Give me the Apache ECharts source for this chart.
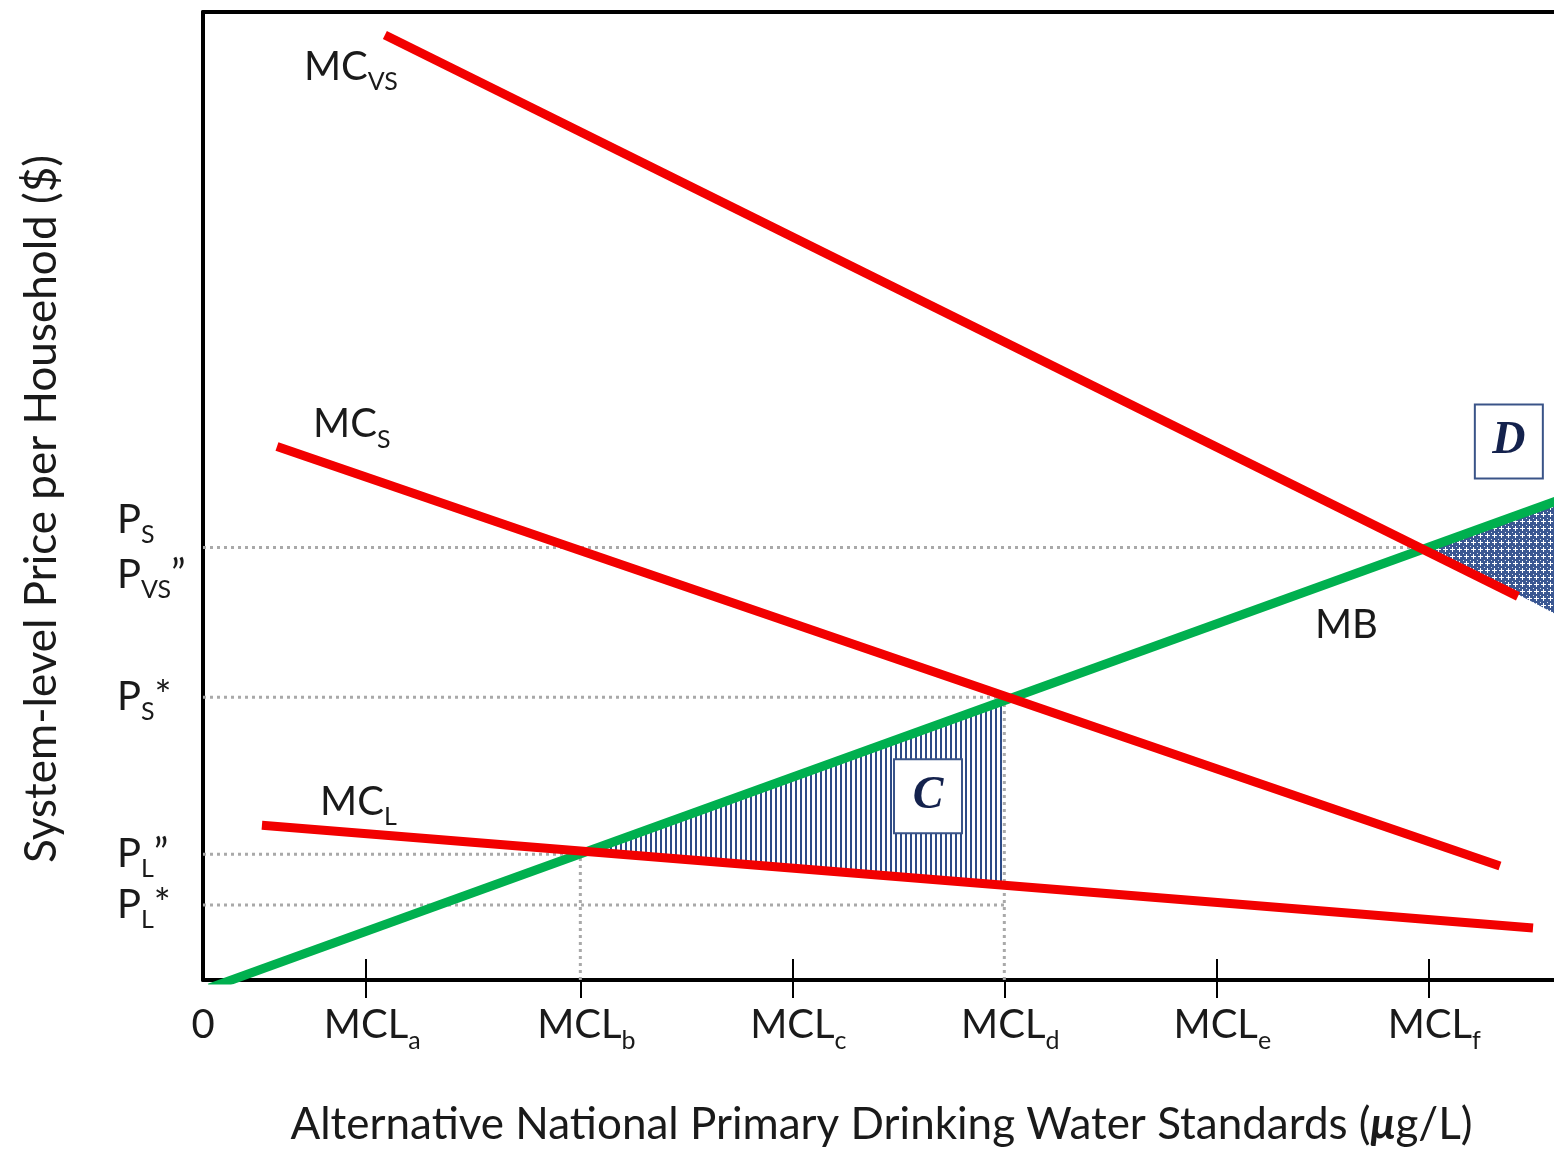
<!DOCTYPE html>
<html><head><meta charset="utf-8">
<script src="https://cdn.jsdelivr.net/npm/echarts@6/dist/echarts.min.js"></script>
<style>html,body{margin:0;padding:0;background:#fff}#c{width:1554px;height:1152px}</style>
</head><body><div id="c"></div>
<script>
// ---- data ----
const xTickValues = [0.77, 1.78, 2.78, 3.78, 4.78, 5.78];
const xTickSubs = ['a', 'b', 'c', 'd', 'e', 'f'];
const xInsideTicks = [0.77, 2.78, 4.78, 5.78];
const priceValues = [0.75, 1.26, 2.83, 4.33];
const priceNames = ['PL*', 'PL”', 'PS*', 'PS / PVS”'];
const mcVS = [[0.858, 9.46], [6.203, 3.84]];
const mcS = [[0.349, 5.34], [6.118, 1.14]];
const mcL = [[0.278, 1.55], [6.274, 0.52]];
const mb = [[0.03, -0.08], [6.6, 4.96]];
const areaC = [[1.78, 1.26], [3.78, 2.83], [3.78, 0.95]];
const areaD = [[5.78, 4.33], [6.6, 4.96], [6.6, 3.42]];
const guideH = [[4.33, 5.78], [2.83, 3.78], [1.26, 1.78], [0.75, 3.78]]; // [y, x end]
const guideV = [[1.78, 1.26], [3.78, 2.83]]; // [x, y end]

const FONT = 'Lato';
const TXT = '#1a1a1a';
const XMAX = 6.373, YMAX = 9.69;

function pattern(kind) {
  const c = document.createElement('canvas');
  const ctx = c.getContext('2d');
  if (kind === 'v') {
    c.width = 5; c.height = 5;
    ctx.fillStyle = '#ffffff'; ctx.fillRect(0, 0, 5, 5);
    ctx.fillStyle = '#2c4a86'; ctx.fillRect(0, 0, 2, 5);
  } else {
    c.width = 7; c.height = 7;
    ctx.fillStyle = '#3a5792'; ctx.fillRect(0, 0, 7, 7);
    ctx.fillStyle = '#ffffff';
    ctx.fillRect(3, 1, 1, 5); ctx.fillRect(1, 3, 5, 1);
    ctx.fillStyle = '#dfe5f0';
    ctx.fillRect(0, 0, 1, 1);
  }
  return { image: c, repeat: 'repeat' };
}

const richBase = {
  m: { fontFamily: FONT, fontSize: 40, lineHeight: 55, color: TXT },
  s: { fontFamily: FONT, fontSize: 25, lineHeight: 26, verticalAlign: 'bottom', color: TXT }
};

function priceLabel(v) {
  const i = priceValues.findIndex(p => Math.abs(p - v) < 1e-6);
  return ['{m|P}{s|L}{m|*}', '{m|P}{s|L}{m|”}', '{m|P}{s|S}{m|*}', '{m|P}{s|S}\n{m|P}{s|VS}{m|”}'][i] || '';
}
function xLabel(v) {
  if (Math.abs(v) < 1e-6) return '{m|0}';
  const i = xTickValues.findIndex(p => Math.abs(p - v) < 1e-6);
  return i < 0 ? '' : '{p|}{m|MCL}{s|' + xTickSubs[i] + '}';
}

function lineSeries(data, color, z) {
  return { type: 'line', data: data, symbol: 'none', silent: true, z: z, clip: true,
    lineStyle: { color: color, width: 9, cap: 'butt' }, xAxisIndex: 0, yAxisIndex: 0 };
}
function guideSeries(data) {
  return { type: 'line', data: data, symbol: 'none', silent: true, z: 2,
    lineStyle: { color: '#a9a9a9', width: 3, type: [3, 4] } };
}
function polySeries(pts, fill) {
  return { type: 'custom', data: [0], clip: true, z: 1, silent: true,
    renderItem: (params, api) => ({ type: 'polygon', shape: { points: pts.map(p => api.coord(p)) },
      style: { fill: fill } }) };
}
function curveLabel(text, pos) {
  return { type: 'scatter', data: [pos], symbolSize: 0, silent: true, z: 10,
    itemStyle: { opacity: 1 },
    label: { show: true, position: 'right', distance: 0, formatter: text, rich: richBase } };
}
function boxLabel(letter, pos) {
  return { type: 'scatter', data: [pos], symbolSize: 0, silent: true, z: 10,
    itemStyle: { opacity: 1 },
    label: { show: true, position: 'inside', formatter: letter, backgroundColor: '#fff',
      borderColor: '#3a5488', borderWidth: 2, width: 66, height: 72, lineHeight: 72,
      align: 'center', verticalAlign: 'middle',
      fontFamily: 'Liberation Serif', fontStyle: 'italic', fontWeight: 'bold', fontSize: 46, color: '#14224d' } };
}

const series = [
  polySeries(areaC, pattern('v')),
  polySeries(areaD, pattern('x')),
  ...guideH.map(g => guideSeries([[0, g[0]], [g[1], g[0]]])),
  ...guideV.map(g => guideSeries([[g[0], 0], [g[0], g[1]]])),
  lineSeries(mb, '#00b04f', 4),
  lineSeries(mcVS, '#f20000', 5),
  lineSeries(mcS, '#f20000', 5),
  lineSeries(mcL, '#f20000', 5),
  curveLabel('{m|MC}{s|VS}', [0.476, 9.14]),
  curveLabel('{m|MC}{s|S}', [0.519, 5.56]),
  curveLabel('{m|MC}{s|L}', [0.552, 1.78]),
  curveLabel('{m|MB}', [5.245, 3.55]),
  boxLabel('C', [3.42, 1.84]),
  boxLabel('D', [6.16, 5.39])
];

const gridRect = { left: 203, top: 12, width: 1351, height: 969 };
const xRich = Object.assign({ p: { width: 12, fontSize: 10, lineHeight: 10 } }, richBase);
const option = {
  animation: false,
  backgroundColor: '#fff',
  grid: [Object.assign({}, gridRect), Object.assign({}, gridRect)],
  xAxis: [
    { type: 'value', gridIndex: 0, position: 'bottom', min: 0, max: XMAX,
      axisLine: { show: true, onZero: false, lineStyle: { color: '#000', width: 4 } },
      axisTick: { show: true, customValues: xTickValues, length: 18, lineStyle: { color: '#000', width: 2 } },
      axisLabel: { show: true, customValues: [0].concat(xTickValues), formatter: xLabel, margin: 18, rich: xRich },
      splitLine: { show: false },
      name: '{t|Alternative National Primary Drinking Water Standards (}{u|μ}{t|g/L)}',
      nameLocation: 'middle', nameGap: 118,
      nameTextStyle: { padding: [0, 0, 0, 6], rich: {
        t: { fontFamily: FONT, fontSize: 44, color: TXT, lineHeight: 54 },
        u: { fontFamily: FONT, fontSize: 44, color: TXT, fontStyle: 'italic', fontWeight: 'bold', lineHeight: 54 } } } },
    { type: 'value', gridIndex: 0, position: 'top', min: 0, max: XMAX,
      axisLine: { show: true, onZero: false, lineStyle: { color: '#000', width: 4 } },
      axisTick: { show: false }, axisLabel: { show: false }, splitLine: { show: false } },
    { type: 'value', gridIndex: 1, position: 'bottom', min: 0, max: XMAX,
      axisLine: { show: false },
      axisTick: { show: true, inside: true, customValues: xInsideTicks, length: 22, lineStyle: { color: '#000', width: 2 } },
      axisLabel: { show: false }, splitLine: { show: false } }
  ],
  yAxis: [
    { type: 'value', gridIndex: 0, min: 0, max: YMAX,
      axisLine: { show: true, onZero: false, lineStyle: { color: '#000', width: 4 } },
      axisTick: { show: false },
      axisLabel: { show: true, customValues: priceValues, formatter: priceLabel, align: 'left', margin: 86, rich: richBase },
      splitLine: { show: false },
      name: 'System-level Price per Household ($)', nameLocation: 'middle', nameGap: 139,
      nameTextStyle: { fontFamily: FONT, fontSize: 44, color: TXT, padding: [0, 26, 0, 0] } },
    { type: 'value', gridIndex: 1, min: 0, max: YMAX, show: false }
  ],
  series: series
};
const chart = echarts.init(document.getElementById('c'));
chart.setOption(option);
</script></body></html>
